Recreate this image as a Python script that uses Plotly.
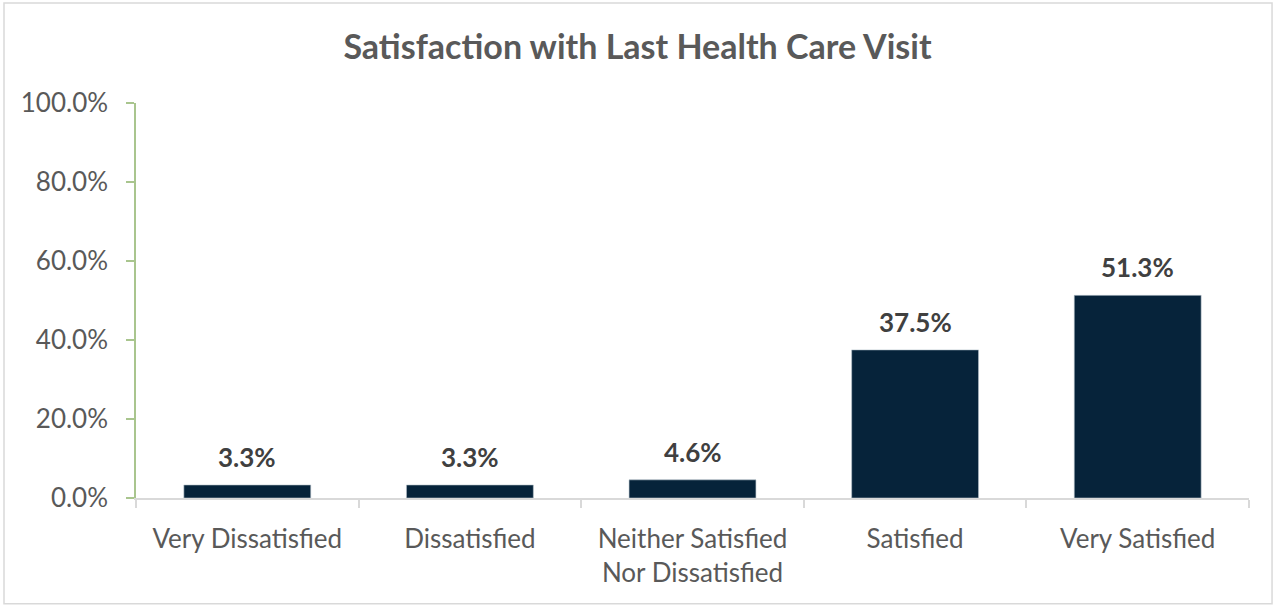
import plotly.graph_objects as go

# Survey responses: satisfaction with most recent health care visit
categories = [
    "Very Dissatisfied",
    "Dissatisfied",
    "Neither Satisfied<br>Nor Dissatisfied",
    "Satisfied",
    "Very Satisfied",
]
percentages = [3.3, 3.3, 4.6, 37.5, 51.3]
y_ticks = [0, 20, 40, 60, 80, 100]
y_tick_labels = [f"{v:.1f}%" for v in y_ticks]

FONT = "Lato, 'Open Sans', sans-serif"
BAR_COLOR = "#06233A"
TEXT_GRAY = "#595959"
LABEL_GRAY = "#404040"

fig = go.Figure()
fig.add_trace(
    go.Bar(
        x=categories,
        y=percentages,
        marker=dict(color=BAR_COLOR, line=dict(color="#B8C4CC", width=0.6)),
        width=0.57,
        hoverinfo="x+y",
    )
)

# Value labels sitting above each bar
for cat, val in zip(categories, percentages):
    fig.add_annotation(
        x=cat,
        y=val,
        text=f"<b>{val:.1f}%</b>",
        showarrow=False,
        yanchor="bottom",
        yshift=10,
        font=dict(family=FONT, size=26, color=LABEL_GRAY),
    )

# Light frame around the whole chart
fig.add_shape(
    type="rect",
    xref="paper",
    yref="paper",
    x0=-0.1186,
    x1=1.0207,
    y0=-0.268,
    y1=1.2532,
    line=dict(color="#D9D9D9", width=1.5),
    fillcolor="rgba(0,0,0,0)",
    layer="below",
)

fig.update_layout(
    width=1275,
    height=607,
    margin=dict(l=136, r=26, t=103, b=109),
    paper_bgcolor="white",
    plot_bgcolor="white",
    showlegend=False,
    bargap=0.43,
    title=dict(
        text="<b>Satisfaction with Last Health Care Visit</b>",
        x=0.5,
        xanchor="center",
        y=0.922,
        yanchor="middle",
        font=dict(family=FONT, size=34, color=TEXT_GRAY),
    ),
    xaxis=dict(
        type="category",
        showgrid=False,
        showline=True,
        linecolor="#D9D9D9",
        linewidth=1.5,
        ticks="outside",
        tickson="boundaries",
        ticklen=8,
        tickcolor="#D9D9D9",
        tickwidth=1.5,
        ticklabelstandoff=17,
        tickfont=dict(family=FONT, size=26, color=TEXT_GRAY),
        fixedrange=True,
    ),
    yaxis=dict(
        range=[0, 100],
        tickvals=y_ticks,
        ticktext=y_tick_labels,
        showgrid=False,
        zeroline=False,
        showline=True,
        linecolor="#A9C58E",
        linewidth=1.5,
        ticks="outside",
        ticklen=8,
        tickcolor="#A9C58E",
        tickwidth=1.5,
        ticklabelstandoff=13,
        tickfont=dict(family=FONT, size=26, color=TEXT_GRAY),
        fixedrange=True,
    ),
)

fig.write_html("out.html")
